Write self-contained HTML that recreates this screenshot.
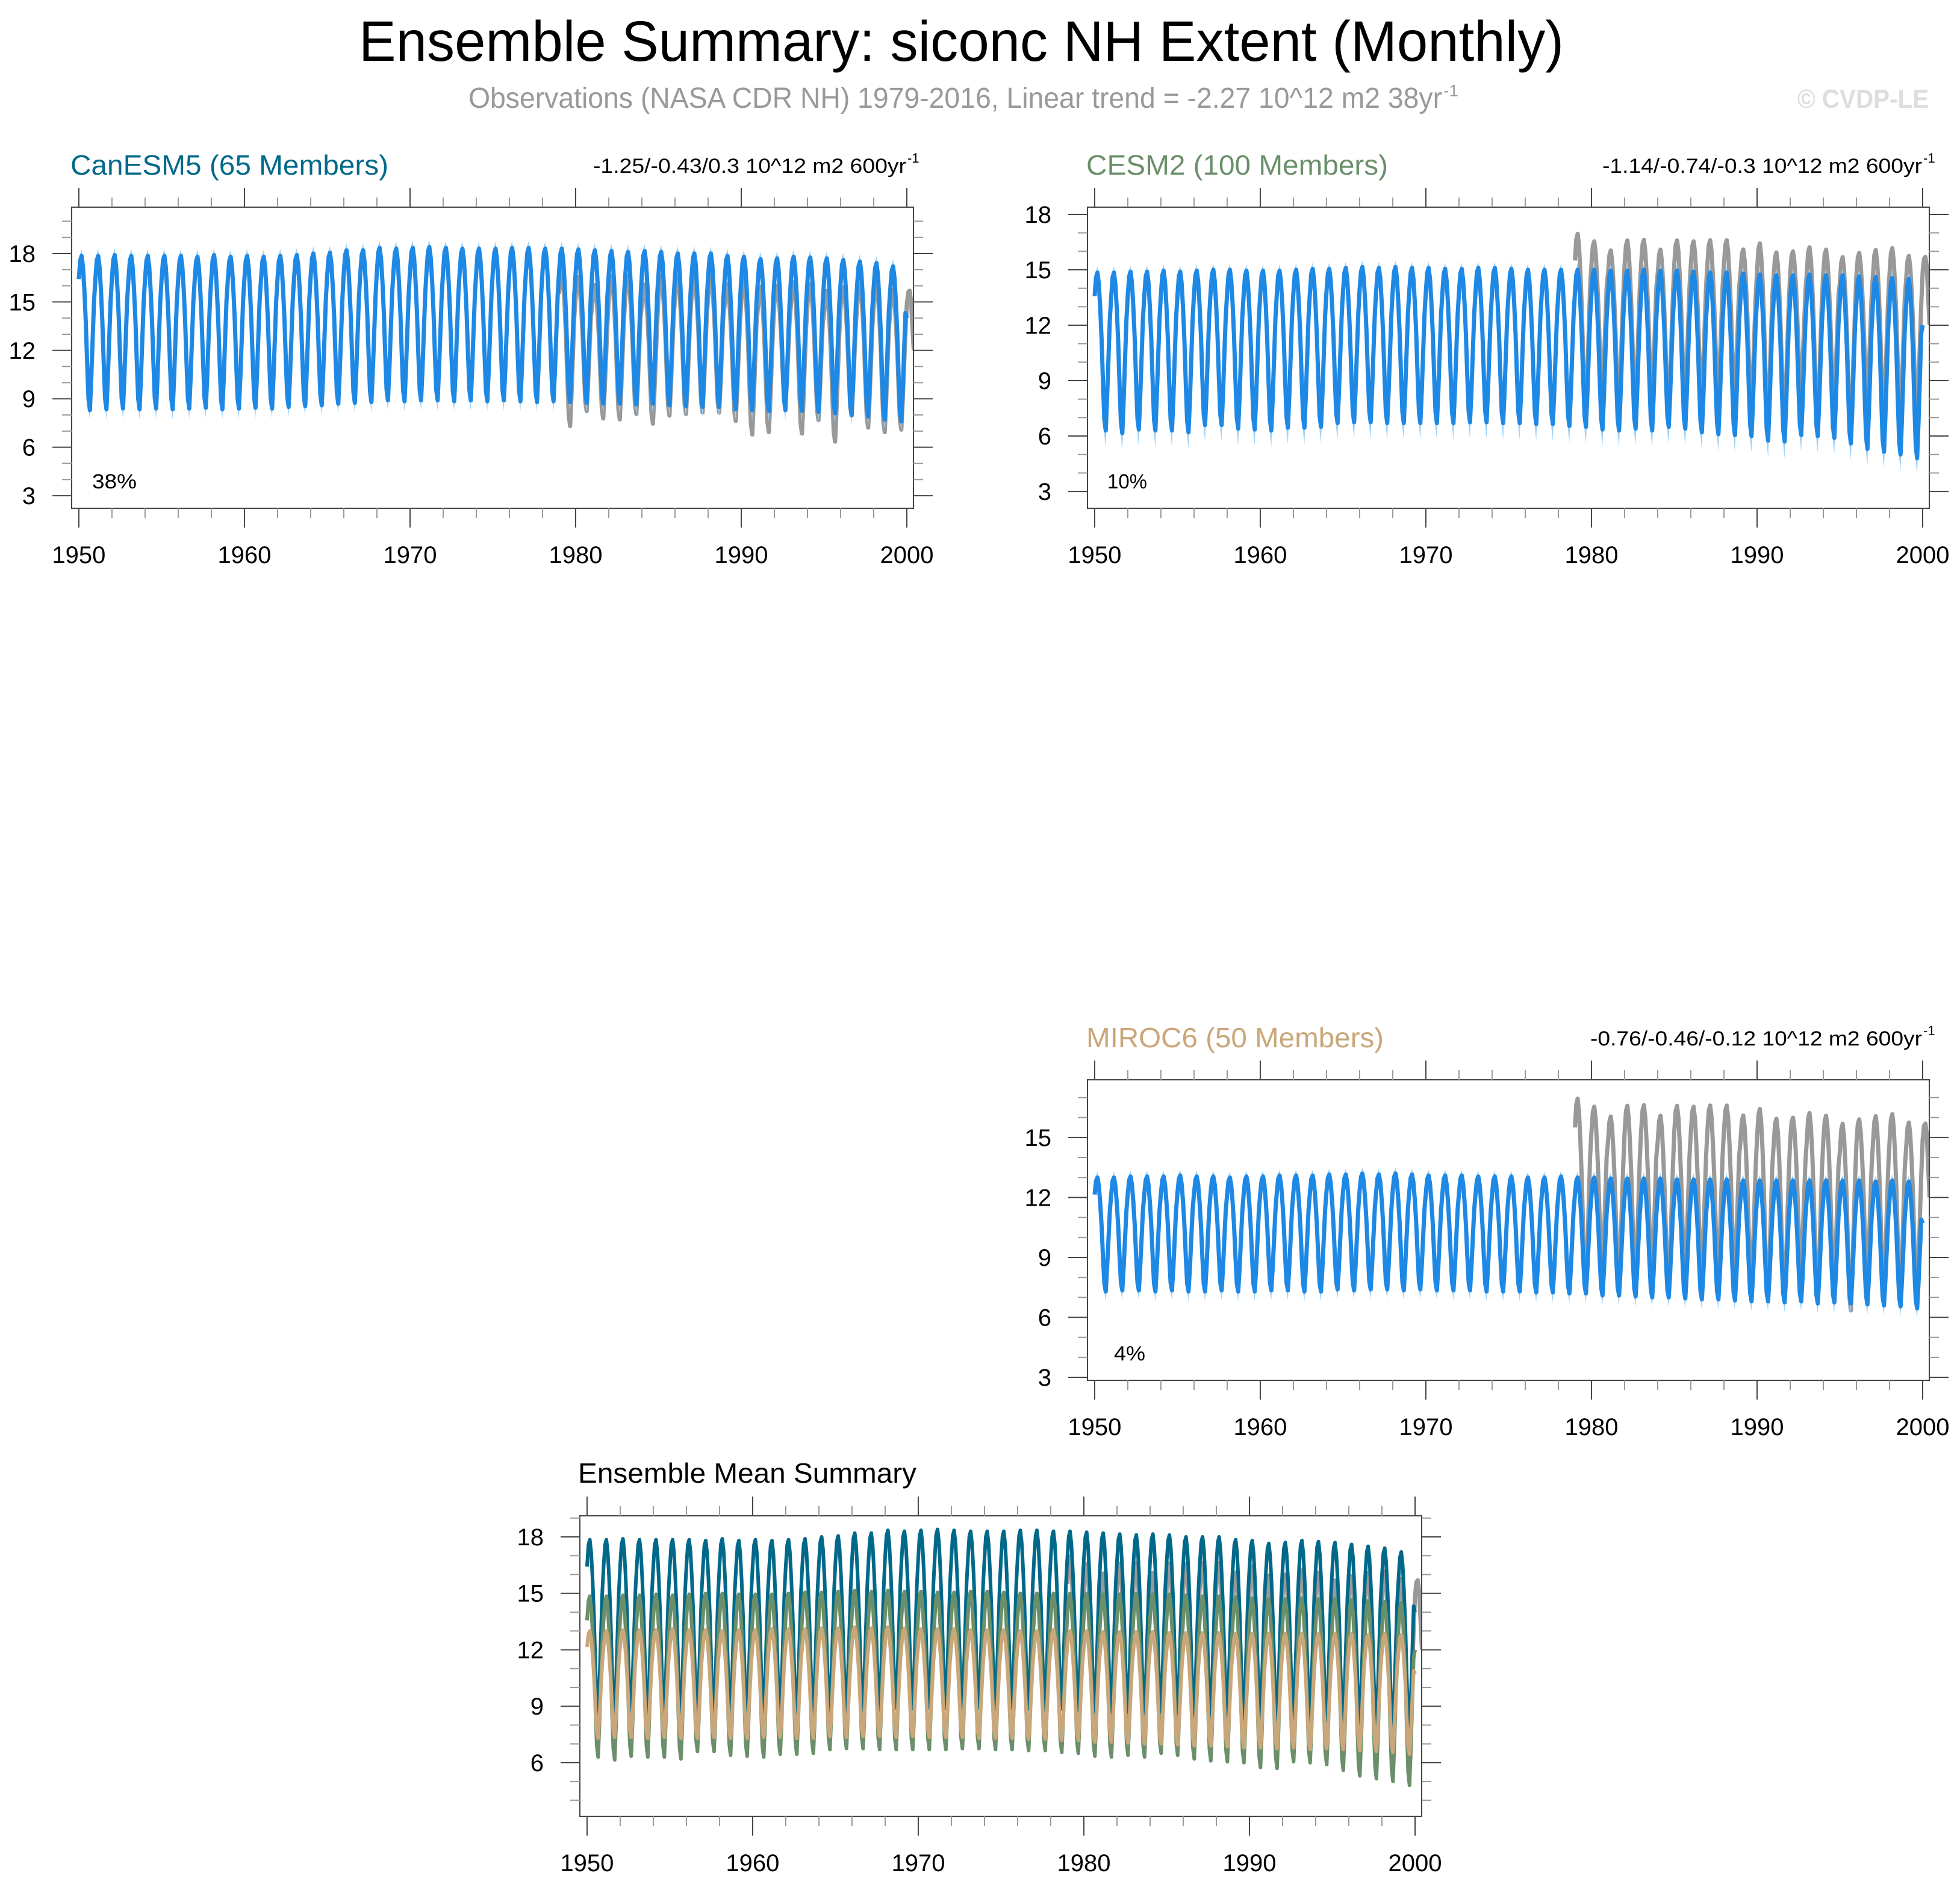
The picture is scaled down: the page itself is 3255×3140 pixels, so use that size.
<!DOCTYPE html>
<html><head><meta charset="utf-8"><title>Ensemble Summary: siconc NH Extent (Monthly)</title>
<style>
html,body{margin:0;padding:0;background:#fff;}
svg{display:block;font-family:"Liberation Sans",Arial,sans-serif;}
</style></head>
<body>
<svg id="fig" width="3255" height="3140" viewBox="0 0 3255 3140" xmlns="http://www.w3.org/2000/svg">
<rect x="0" y="0" width="3255" height="3140" fill="#fff"/>
<text x="596" y="101" font-size="95" textLength="2001" lengthAdjust="spacingAndGlyphs" fill="#000">Ensemble Summary: siconc NH Extent (Monthly)</text>
<text x="778" y="179" font-size="48" textLength="1617" lengthAdjust="spacingAndGlyphs" fill="#999">Observations (NASA CDR NH) 1979-2016, Linear trend = -2.27 10^12 m2 38yr</text>
<text x="2397" y="160" font-size="28" fill="#999">-1</text>
<text x="2985" y="179" font-size="44" font-weight="bold" textLength="218" lengthAdjust="spacingAndGlyphs" fill="#ddd">© CVDP-LE</text>
<g id="panels"></g>
</svg>
<script>
// ---- data (10^12 m2), annual maxima/minima per year 1950..1999 ----
const years = [1950,1951,1952,1953,1954,1955,1956,1957,1958,1959,1960,1961,1962,1963,1964,1965,1966,1967,1968,1969,1970,1971,1972,1973,1974,1975,1976,1977,1978,1979,1980,1981,1982,1983,1984,1985,1986,1987,1988,1989,1990,1991,1992,1993,1994,1995,1996,1997,1998,1999];
const seasonShape = [0.85,0.97,1.0,0.93,0.78,0.58,0.31,0.07,0.0,0.2,0.45,0.7];
const xTickLabels = [1950,1960,1970,1980,1990,2000];

const canesm5Max = [17.85,17.85,17.9,17.85,17.85,17.85,17.85,17.8,17.9,17.8,17.85,17.8,17.85,17.9,18.0,18.05,18.2,18.2,18.35,18.3,18.35,18.4,18.35,18.3,18.3,18.3,18.35,18.35,18.3,18.3,18.25,18.2,18.15,18.1,18.15,18.1,18.0,18.0,18.0,17.85,17.8,17.65,17.7,17.8,17.75,17.7,17.6,17.5,17.4,17.2];
const canesm5Min = [8.3,8.35,8.4,8.35,8.4,8.35,8.4,8.45,8.35,8.4,8.45,8.4,8.5,8.55,8.6,8.7,8.75,8.8,8.9,8.85,8.9,8.9,8.85,8.9,8.85,8.9,8.85,8.8,8.85,8.8,8.75,8.7,8.7,8.65,8.7,8.6,8.55,8.5,8.5,8.35,8.3,8.25,8.3,8.25,8.2,8.1,8.0,7.9,7.7,7.6];
const canesm5End = [14.0];
const canesm5Spread = [0.45,0.65];

const cesm2Max = [14.85,14.85,14.9,14.9,14.95,14.9,14.95,15.0,15.0,14.95,14.95,14.95,15.0,15.05,15.05,15.1,15.15,15.1,15.15,15.1,15.1,15.05,15.05,15.1,15.1,15.05,15.0,15.0,15.0,15.0,15.0,14.95,14.95,15.0,14.95,14.95,14.9,14.85,14.85,14.8,14.75,14.7,14.7,14.75,14.7,14.7,14.65,14.6,14.55,14.5];
const cesm2Min = [6.3,6.15,6.35,6.3,6.3,6.2,6.6,6.6,6.4,6.35,6.3,6.45,6.45,6.5,6.7,6.75,6.75,6.7,6.7,6.7,6.7,6.7,6.75,6.75,6.7,6.7,6.65,6.65,6.55,6.5,6.35,6.3,6.4,6.3,6.5,6.4,6.2,6.1,6.05,6.0,5.75,5.7,6.05,6.0,5.9,5.6,5.3,5.15,5.0,4.8];
const cesm2End = [12.0];
const cesm2Spread = [0.35,0.9];

const miroc6Max = [13.0,13.0,13.05,13.05,13.05,13.1,13.05,13.05,13.0,13.05,13.05,13.1,13.1,13.1,13.15,13.15,13.2,13.15,13.2,13.15,13.1,13.1,13.1,13.05,13.05,13.05,13.0,13.0,13.05,13.0,13.0,12.95,12.95,12.95,12.95,12.9,12.9,12.9,12.9,12.85,12.85,12.85,12.85,12.85,12.85,12.85,12.85,12.8,12.85,12.8];
const miroc6Min = [7.3,7.35,7.35,7.3,7.35,7.3,7.3,7.35,7.3,7.3,7.35,7.35,7.3,7.3,7.4,7.35,7.4,7.4,7.35,7.4,7.35,7.35,7.35,7.3,7.3,7.3,7.25,7.25,7.2,7.2,7.1,7.1,7.05,7.0,7.0,6.95,6.9,6.9,6.85,6.8,6.8,6.75,6.8,6.7,6.75,6.7,6.65,6.6,6.55,6.45];
const miroc6End = [10.7];
const miroc6Spread = [0.3,0.5];

const obsYears = [1979,1980,1981,1982,1983,1984,1985,1986,1987,1988,1989,1990,1991,1992,1993,1994,1995,1996,1997,1998,1999];
const obsMax = [16.95,16.54,16.05,16.59,16.62,16.09,16.59,16.54,16.6,16.6,16.1,16.43,15.94,15.99,16.22,16.09,15.68,15.91,16.07,16.17,15.75];
const obsMin = [7.31,8.24,7.78,7.72,8.06,7.46,7.96,8.06,8.15,8.15,7.63,6.79,6.94,8.43,6.85,7.68,6.35,7.96,7.22,6.94,7.09];
const obsTail = [14.9,15.6,15.7,15.1,13.5,12.0];

// ---- layout ----
const NS = "http://www.w3.org/2000/svg";
const root = document.getElementById('panels');
function el(tag, attrs, parent){const e=document.createElementNS(NS,tag);for(const k in attrs)e.setAttribute(k,attrs[k]);(parent||root).appendChild(e);return e;}

const XMIN = -5.2, XMAX = 604.8; // months since Jan 1950

function monthlySeries(maxA, minA, endV){
  const out=[];
  for(let i=0;i<maxA.length;i++){for(let m=0;m<12;m++){out.push([i*12+m, minA[i]+seasonShape[m]*(maxA[i]-minA[i])]);}}
  out.push([maxA.length*12, endV]);
  return out;
}
function obsSeries(){
  const out=[]; const off=(obsYears[0]-years[0])*12;
  for(let i=0;i<obsMax.length;i++){for(let m=0;m<12;m++){out.push([off+i*12+m, obsMin[i]+seasonShape[m]*(obsMax[i]-obsMin[i])]);}}
  const t0 = off+obsMax.length*12;
  obsTail.forEach((v,k)=>out.push([t0+k, v]));
  return out;
}

const models = [
  {key:'canesm5', name:'CanESM5 (65 Members)', color:'#00698a', max:canesm5Max, min:canesm5Min, end:canesm5End[0], spread:canesm5Spread},
  {key:'cesm2', name:'CESM2 (100 Members)', color:'#6a8f6a', max:cesm2Max, min:cesm2Min, end:cesm2End[0], spread:cesm2Spread},
  {key:'miroc6', name:'MIROC6 (50 Members)', color:'#c9a77a', max:miroc6Max, min:miroc6Min, end:miroc6End[0], spread:miroc6Spread}
];

const panels = [
  {model:0, L:119, R:1517, T:344, B:844, ymin:2.22, ymax:20.87, majors:[3,6,9,12,15,18], title:{x:117,y:290,w:528}, stats:{text:'-1.25/-0.43/0.3 10^12 m2 600yr', x:985, w:520}, pct:{text:'38%', x:153, y:811, w:74}},
  {model:1, L:1806, R:3204, T:344, B:844, ymin:2.09, ymax:18.39, majors:[3,6,9,12,15,18], title:{x:1804,y:290,w:501}, stats:{text:'-1.14/-0.74/-0.3 10^12 m2 600yr', x:2661, w:531}, pct:{text:'10%', x:1839, y:811, w:66}},
  {model:2, L:1806, R:3204, T:1793, B:2292, ymin:2.85, ymax:17.89, majors:[3,6,9,12,15], title:{x:1804,y:1739,w:494}, stats:{text:'-0.76/-0.46/-0.12 10^12 m2 600yr', x:2641, w:551}, pct:{text:'4%', x:1850, y:2259, w:52}},
  {model:-1, L:963, R:2361, T:2517, B:3016, ymin:3.15, ymax:19.12, majors:[6,9,12,15,18], title:{x:960,y:2462,w:562}}
];

function pathFrom(pts, sx, sy){return pts.map((p,i)=>(i?'L':'M')+sx(p[0]).toFixed(1)+' '+sy(p[1]).toFixed(1)).join(' ');}

panels.forEach((P,pi)=>{
  const g = el('g',{});
  const pname = P.model>=0 ? models[P.model].key+'-panel' : 'ensemble-mean-panel';
  
  
  const sx = m => P.L + (m-XMIN)/(XMAX-XMIN)*(P.R-P.L);
  const sy = v => P.B - (v-P.ymin)/(P.ymax-P.ymin)*(P.B-P.T);
  const clipId = 'clip'+pi;
  const cp = el('clipPath',{id:clipId},g);
  el('rect',{x:P.L,y:P.T,width:P.R-P.L,height:P.B-P.T},cp);
  const plot = el('g',{'clip-path':'url(#'+clipId+')'},g);
  
  

  const obs = el('path',{d:pathFrom(obsSeries(),sx,sy),fill:'none',stroke:'#999',"stroke-width":7,"stroke-linejoin":'round'},plot);
  
  

  if(P.model>=0){
    const M = models[P.model];
    const hi = monthlySeries(M.max.map(v=>v+M.spread[0]), M.min, M.end);
    const lo = monthlySeries(M.max, M.min.map(v=>v-M.spread[1]), M.end);
    const d = pathFrom(hi,sx,sy)+' '+lo.slice().reverse().map(p=>'L'+sx(p[0]).toFixed(1)+' '+sy(p[1]).toFixed(1)).join(' ')+' Z';
    const env = el('path',{d:d,fill:'#9fd3fa',stroke:'none'},plot);
    
    
    const ln = el('path',{d:pathFrom(monthlySeries(M.max,M.min,M.end),sx,sy),fill:'none',stroke:'#1e88e5',"stroke-width":7,"stroke-linejoin":'round'},plot);
    
    
  } else {
    models.forEach(M=>{
      const ln = el('path',{d:pathFrom(monthlySeries(M.max,M.min,M.end),sx,sy),fill:'none',stroke:M.color,"stroke-width":6,"stroke-linejoin":'round'},plot);
      
      
    });
  }

  const box = el('rect',{x:P.L,y:P.T,width:P.R-P.L,height:P.B-P.T,fill:'none',stroke:'#444',"stroke-width":2},g);
  
  

  for(let v=Math.ceil(P.ymin); v<=Math.floor(P.ymax); v++){
    const y = sy(v); const major = P.majors.includes(v);
    const len = major?32:16, col = major?'#444':'#999';
    el('line',{x1:P.L-len,x2:P.L,y1:y,y2:y,stroke:col,"stroke-width":2},g);
    el('line',{x1:P.R,x2:P.R+len,y1:y,y2:y,stroke:col,"stroke-width":2},g);
    if(major){
      const t = el('text',{x:P.L-60,y:y+14,"font-size":40,"text-anchor":'end',fill:'#000'},g);
      
      
      t.textContent = v;
    }
  }
  for(let yr=1950; yr<=2000; yr+=2){
    const x = sx((yr-1950)*12); const major = (yr%10===0);
    const len = major?32:16, col = major?'#444':'#999';
    el('line',{x1:x,x2:x,y1:P.T-len,y2:P.T,stroke:col,"stroke-width":2},g);
    el('line',{x1:x,x2:x,y1:P.B,y2:P.B+len,stroke:col,"stroke-width":2},g);
  }
  xTickLabels.forEach(yr=>{
    const t = el('text',{x:sx((yr-1950)*12),y:P.B+91,"font-size":40,"text-anchor":'middle',fill:'#000'},g);
    
    
    t.textContent = yr;
  });

  const tt = el('text',{x:P.title.x,y:P.title.y,"font-size":46,textLength:P.title.w,lengthAdjust:'spacingAndGlyphs',fill:P.model>=0?models[P.model].color:'#000'},g);
  
  
  tt.textContent = P.model>=0 ? models[P.model].name : 'Ensemble Mean Summary';
  if(P.stats){
    const st = el('text',{x:P.stats.x,y:P.title.y-3,"font-size":34,textLength:P.stats.w,lengthAdjust:'spacingAndGlyphs',fill:'#000'},g);
    
    
    st.textContent = P.stats.text;
    const sp = el('text',{x:P.stats.x+P.stats.w+2,y:P.title.y-20,"font-size":22,fill:'#000'},g);
    
    
    sp.textContent = '-1';
    const pc = el('text',{x:P.pct.x,y:P.pct.y,"font-size":34,textLength:P.pct.w,lengthAdjust:'spacingAndGlyphs',fill:'#000'},g);
    
    
    pc.textContent = P.pct.text;
  }
});
</script>
</body></html>
